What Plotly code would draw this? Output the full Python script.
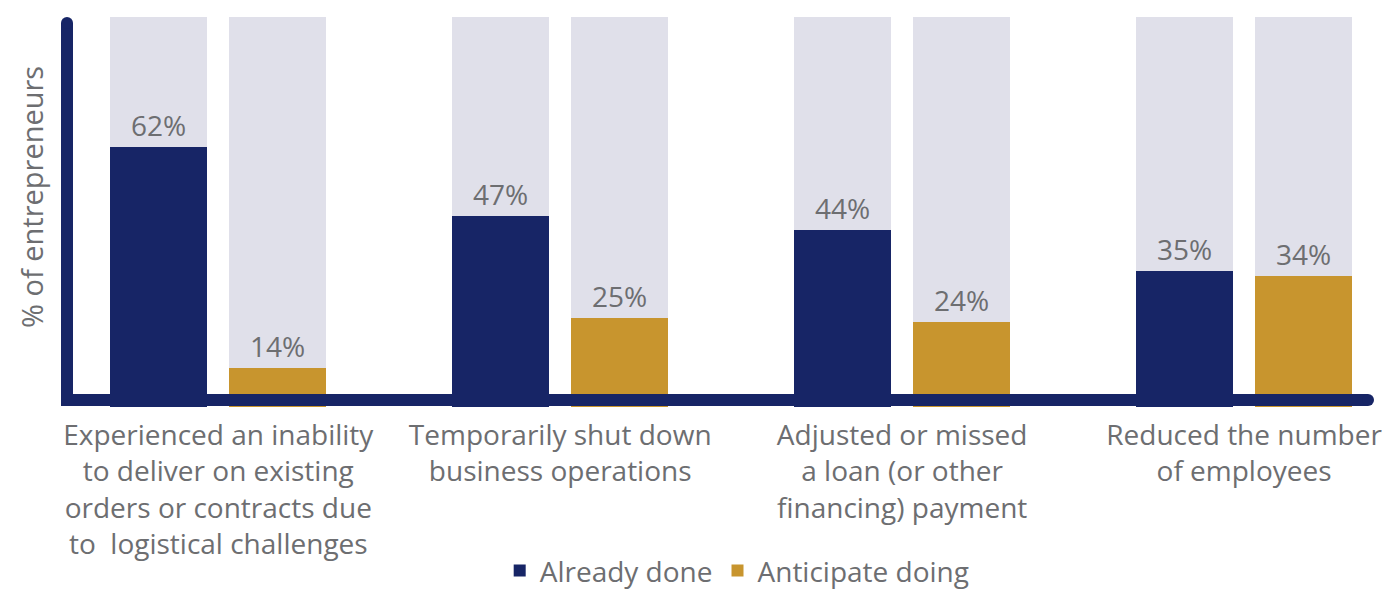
import plotly.graph_objects as go

categories = [
    "Experienced an inability<br>to deliver on existing<br>orders or contracts due<br>to  logistical challenges",
    "Temporarily shut down<br>business operations",
    "Adjusted or missed<br>a loan (or other<br>financing) payment",
    "Reduced the number<br>of employees",
]
already_done = [62, 47, 44, 35]
anticipate = [14, 25, 24, 34]
background = [100, 100, 100, 100]
series_names = ["Already done", "Anticipate doing"]
y_title = "% of entrepreneurs"

NAVY = "#172566"
GOLD = "#c8952e"
BG = "#e0e0ea"
GRAY = "#6d6e71"
FONT = "Open Sans"

W = 0.284
OFF1 = -0.316
OFF2 = 0.0307
xs = list(range(len(categories)))

fig = go.Figure()
for off in (OFF1, OFF2):
    fig.add_trace(go.Bar(x=xs, y=background, width=W, offset=off,
                         marker=dict(color=BG, line=dict(width=0)),
                         showlegend=False, hoverinfo="skip"))
for name, vals, col, off in ((series_names[0], already_done, NAVY, OFF1),
                             (series_names[1], anticipate, GOLD, OFF2)):
    fig.add_trace(go.Bar(x=xs, y=vals, width=W, offset=off, name=name,
                         marker=dict(color=col, line=dict(width=0)),
                         text=[f"{v}%" for v in vals], textposition="outside",
                         textfont=dict(color=GRAY, size=28, family=FONT),
                         cliponaxis=False))

# plot area in pixels: x 61..1374, y 17..407
PX0, PX1, PY0, PY1 = 61, 1374, 17, 407
def px(x):
    return (x - PX0) / (PX1 - PX0)
def py(y):
    return (PY1 - y) / (PY1 - PY0)

shapes = [
    dict(type="line", xref="paper", yref="paper", x0=px(67), x1=px(67), y0=py(23), y1=py(406),
         line=dict(color=NAVY, width=12), layer="above"),
    dict(type="circle", xref="paper", yref="paper", x0=px(61), x1=px(73), y0=py(29), y1=py(17),
         fillcolor=NAVY, line=dict(width=0), layer="above"),
    dict(type="line", xref="paper", yref="paper", x0=px(61), x1=px(1368), y0=py(400), y1=py(400),
         line=dict(color=NAVY, width=12), layer="above"),
    dict(type="circle", xref="paper", yref="paper", x0=px(1362), x1=px(1374), y0=py(406), y1=py(394),
         fillcolor=NAVY, line=dict(width=0), layer="above"),
]

annotations = [
    dict(text=y_title, xref="paper", yref="paper", x=px(31), y=py(197),
         xanchor="center", yanchor="middle", textangle=-90, showarrow=False,
         font=dict(size=29, color=GRAY, family=FONT)),
]

fig.update_layout(
    width=1397, height=591,
    margin=dict(l=61, r=23, t=17, b=184),
    plot_bgcolor="white", paper_bgcolor="white",
    barmode="overlay", bargap=0,
    font=dict(family=FONT, color=GRAY, size=28),
    xaxis=dict(range=[-0.46, 3.38], tickmode="array", tickvals=xs, ticktext=categories,
               showgrid=False, zeroline=False, showline=False, ticks="", automargin=False,
               ticklabelstandoff=9,
               tickfont=dict(size=28, color=GRAY, family=FONT)),
    yaxis=dict(range=[5.6, 90.2], showgrid=False, zeroline=False, showline=False,
               showticklabels=False, ticks="", automargin=False),
    legend=dict(orientation="h", x=0.515, xanchor="center", xref="paper",
                y=0.034, yanchor="middle", yref="container",
                font=dict(size=28, color=GRAY, family=FONT), traceorder="normal",
                itemsizing="constant"),
    shapes=shapes,
    annotations=annotations,
    showlegend=True,
)

fig.write_html("out.html")
